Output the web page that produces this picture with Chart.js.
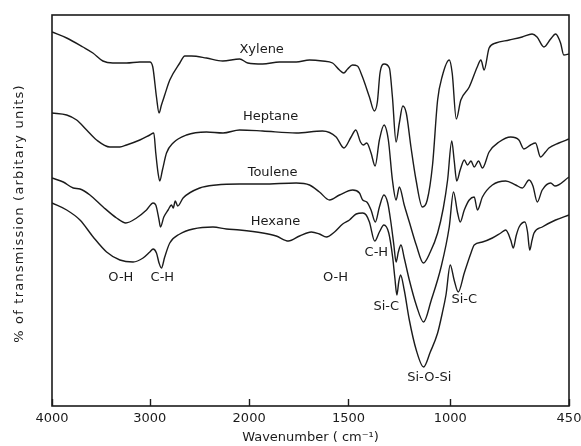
<!DOCTYPE html>
<html>
<head>
<meta charset="utf-8">
<script src="https://cdn.jsdelivr.net/npm/chart.js@4"></script>
<style>
  html, body { margin: 0; padding: 0; background: #fff; }
</style>
</head>
<body>
<canvas id="ir" width="581" height="446"></canvas>
<script>
// IR spectra of the silica films, one trace per solvent (transmission, arbitrary units)
const xyleneWn = [4000,3850,3684,3582,3480,3378,3238,3102,3000,2970,2933,2907,2883,2850,2799,2698,2648,2581,2430,2266,2096,2014,1932,1847,1763,1696,1631,1580,1545,1524,1504,1480,1456,1431,1397,1373,1358,1345,1324,1299,1284,1266,1250,1233,1216,1193,1168,1137,1113,1087,1062,1039,1005,991,972,951,912,875,858,843,820,789,727,667,621,598,566,535,512,489,474,450];
const xyleneT  = [374,368,359,353,345,343,343,344,344,339,309,293,301,311,326,343,350,350,348,345,347,343,342,344,344,346,345,343,336,333,337,341,340,329,309,295,304,333,342,338,309,264,283,300,293,259,226,199,206,241,306,330,346,333,287,306,319,339,346,336,358,363,366,369,372,369,359,367,372,363,351,352];

const heptaneWn = [4000,3850,3748,3646,3544,3408,3306,3238,3102,3000,2960,2940,2917,2900,2873,2832,2766,2631,2430,2263,2096,1932,1763,1631,1562,1523,1487,1464,1441,1427,1410,1389,1369,1348,1325,1304,1284,1266,1250,1226,1201,1167,1132,1098,1062,1034,1013,993,982,970,954,935,920,904,889,869,851,820,774,720,682,659,628,605,582,559,543,497,450];
const heptaneT  = [293,291,286,276,266,259,259,261,266,271,273,253,233,225,236,253,263,271,274,273,276,275,273,275,269,258,269,276,264,261,263,253,240,266,281,266,226,206,219,201,184,161,143,154,173,198,226,265,246,225,236,246,241,245,239,245,238,254,264,269,266,257,261,263,249,254,258,263,267];

const touleneWn = [4000,3885,3783,3714,3612,3477,3340,3245,3136,3034,2967,2940,2907,2893,2859,2816,2782,2764,2744,2719,2665,2497,2332,2095,1931,1763,1696,1646,1595,1545,1479,1446,1430,1410,1389,1368,1348,1326,1307,1291,1277,1266,1255,1242,1226,1201,1167,1131,1093,1045,1005,985,966,954,935,912,889,874,851,805,743,697,666,635,617,597,574,535,515,450];
const touleneT  = [228,224,218,217,211,199,188,183,188,196,203,201,186,179,189,196,201,198,205,200,208,218,221,222,222,223,221,214,206,211,216,213,206,204,196,184,199,211,203,183,161,144,154,161,148,126,101,84,106,139,179,214,193,184,196,206,209,196,209,221,225,221,218,226,220,204,216,223,220,229];

const hexaneWn = [4000,3850,3714,3579,3442,3306,3171,3069,3000,2967,2933,2907,2883,2850,2799,2698,2564,2364,2229,2095,1931,1864,1802,1746,1687,1646,1611,1570,1529,1495,1462,1430,1413,1397,1371,1348,1326,1302,1283,1272,1262,1253,1244,1226,1201,1167,1131,1098,1062,1039,1021,1000,982,963,935,904,889,851,805,766,743,720,708,695,681,654,642,632,621,612,574,512,450];
const hexaneT  = [203,196,186,169,154,146,144,148,154,157,153,143,138,149,163,172,177,179,177,176,173,170,165,170,174,172,169,174,182,186,192,193,191,184,165,174,181,173,149,128,111,124,131,116,86,56,39,54,73,93,111,141,126,114,133,153,161,164,168,173,176,166,158,170,179,184,174,156,166,173,179,186,191];

// band assignments written on the plot
const bandText = ['Xylene','Heptane','Toulene','Hexane','O-H','C-H','O-H','C-H','Si-C','Si-C','Si-O-Si'];
const bandWn   = [1937,1892,1882,1867,3296,2874,1565,1363,1314,935,1103];
const bandT    = [356,289,233,184,128,128,128,153,99,106,28];

const tickWn = [4000, 3000, 2000, 1500, 1000, 450];
const yTitle = '% of transmission (arbitary units)';

// chart paper scale changes below 2000 cm-1, so map wavenumber piecewise onto 0..1
const paperWn  = [4000, 3000, 2000, 1500, 1000, 450];
const paperPos = [0, 0.1892, 0.3813, 0.5734, 0.7703, 1];
function toPos(wn) {
  for (let i = 0; i < paperWn.length - 1; i++) {
    const a = paperWn[i], b = paperWn[i + 1];
    if (wn <= a && wn >= b) {
      return paperPos[i] + (a - wn) / (a - b) * (paperPos[i + 1] - paperPos[i]);
    }
  }
  return wn > 4000 ? 0 : 1;
}

const ink = '#1b1b1b';
const font = { family: '"DejaVu Sans", sans-serif', size: 13 };

function trace(label, wn, t) {
  return {
    label,
    data: wn.map((w, i) => ({ x: toPos(w), y: t[i] })),
    borderColor: ink,
    borderWidth: 1.4,
    pointRadius: 0,
    fill: false,
    cubicInterpolationMode: 'monotone'
  };
}

// frame, inward ticks, band labels and the spaced-out y title
const paperMarks = {
  id: 'paperMarks',
  afterDatasetsDraw(chart) {
    const { ctx, chartArea: a, scales: { x, y } } = chart;
    ctx.save();
    ctx.strokeStyle = ink;
    ctx.lineWidth = 1.6;
    ctx.strokeRect(a.left, a.top, a.right - a.left, a.bottom - a.top);
    ctx.lineWidth = 1.4;
    x.ticks.forEach(t => {
      const px = Math.round(x.getPixelForValue(t.value)) + 0.5;
      ctx.beginPath();
      ctx.moveTo(px, a.bottom);
      ctx.lineTo(px, a.bottom - 7);
      ctx.stroke();
    });
    ctx.fillStyle = ink;
    ctx.font = '13px "DejaVu Sans", sans-serif';
    ctx.textAlign = 'center';
    ctx.textBaseline = 'middle';
    bandText.forEach((s, i) => {
      ctx.fillText(s, x.getPixelForValue(toPos(bandWn[i])), y.getPixelForValue(bandT[i]));
    });

    ctx.translate(20, (a.top + a.bottom) / 2 + 3);
    ctx.rotate(-Math.PI / 2);
    ctx.letterSpacing = '1.2px';
    ctx.fillText(yTitle, 0, 0);
    ctx.restore();
  }
};

new Chart(document.getElementById('ir'), {
  type: 'line',
  data: {
    datasets: [
      trace('Xylene', xyleneWn, xyleneT),
      trace('Heptane', heptaneWn, heptaneT),
      trace('Toulene', touleneWn, touleneT),
      trace('Hexane', hexaneWn, hexaneT)
    ]
  },
  options: {
    responsive: false,
    animation: false,
    layout: { padding: { top: 15, right: 12, left: 0, bottom: 0 } },
    plugins: { legend: { display: false }, tooltip: { enabled: false } },
    scales: {
      x: {
        type: 'linear',
        min: 0,
        max: 1,
        afterBuildTicks: s => { s.ticks = tickWn.map(w => ({ value: toPos(w) })); },
        afterFit: s => { s.height = 40; s.paddingLeft = 0; s.paddingRight = 0; },
        ticks: {
          autoSkip: false,
          maxRotation: 0,
          padding: 5,
          color: ink,
          font,
          callback: (v, i) => tickWn[i]
        },
        grid: { display: false, drawTicks: false },
        border: { display: false },
        title: {
          display: true,
          text: 'Wavenumber ( cm⁻¹)',
          color: ink,
          font,
          padding: { top: 0, bottom: 1 }
        }
      },
      y: {
        min: 0,
        max: 391,
        afterFit: s => { s.width = 52; },
        ticks: { display: false },
        grid: { display: false, drawTicks: false },
        border: { display: false },
        title: { display: false }
      }
    }
  },
  plugins: [paperMarks]
});
</script>
</body>
</html>
